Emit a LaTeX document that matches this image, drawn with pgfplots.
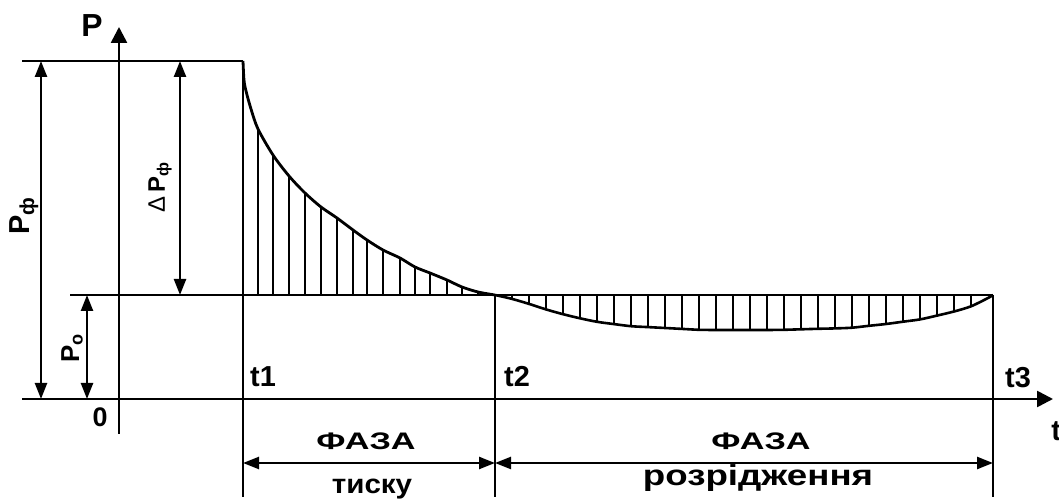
\documentclass[border=0pt]{standalone}
\usepackage{pgfplots}
\pgfplotsset{compat=1.18}
\usetikzlibrary{arrows.meta}
\usepackage{fontspec}
\setmainfont{Liberation Sans}
\begin{document}
\begin{tikzpicture}
\tikzset{
 dim/.style={line width=1.2bp, arrows={Triangle[length=8bp,width=6bp]-Triangle[length=8bp,width=6bp]}},
 axarr/.style={line width=1.3bp, arrows={-Triangle[length=8bp,width=8bp]}},
 ln/.style={line width=1.3bp},
 hatch/.style={ycomb, line width=1bp, mark=none},
}
\begin{axis}[name=ax, hide axis, scale only axis, width=529.5bp, height=249.5bp,
  xmin=0, xmax=1059, ymin=-204, ymax=295, clip=false]
% axes
\addplot[axarr] coordinates {(22,-104) (1053,-104)};
\addplot[axarr] coordinates {(119,-139) (119,268)};
% horizontal lines
\addplot[ln] coordinates {(22,234) (243,234)};
\addplot[ln] coordinates {(70,0) (993,0)};
% verticals
\addplot[ln] coordinates {(243,234) (243,-202)};
\addplot[ln] coordinates {(495,0) (495,-202)};
\addplot[ln] coordinates {(993,0) (993,-202)};
% pressure phase curve
\addplot[line width=1.4bp, smooth, tension=0.5] coordinates {
(243,234) (244,215) (246,204) (251,186) (258,166) (273,140) (289,119) (305,102)
(321,88) (337,77) (353,65) (367,55) (383,45) (400,37) (415,28) (430,22)
(447,15) (462,8) (478,3) (495,0)};
\addplot[hatch] coordinates {
(258,166) (273,140) (289,119) (305,102) (321,88) (337,77) (353,65) (367,55)
(383,45) (400,37) (415,28) (430,22) (447,15) (462,8) (478,3)};
% rarefaction phase curve
\addplot[line width=1.3bp, smooth, tension=0.5] coordinates {
(495,0) (512,-3.9) (529,-8.9) (546,-14.4) (563,-19.2) (580,-23.3) (597,-26.8)
(614,-29.1) (631,-31.2) (648,-32.1) (665,-33) (682,-33.9) (699,-34.8) (716,-35)
(733,-35) (750,-35) (767,-35) (784,-34.8) (801,-34.3) (818,-33.8) (835,-33.4)
(852,-32.7) (869,-30.8) (886,-29) (903,-26.7) (920,-24.4) (937,-20.6) (954,-16.5)
(971,-11.3) (988,-3) (993,0)};
\addplot[hatch] coordinates {
(512,-3.9) (529,-8.9) (546,-14.4) (563,-19.2) (580,-23.3) (597,-26.8)
(614,-29.1) (631,-31.2) (648,-32.1) (665,-33) (682,-33.9) (699,-34.8) (716,-35)
(733,-35) (750,-35) (767,-35) (784,-34.8) (801,-34.3) (818,-33.8) (835,-33.4)
(852,-32.7) (869,-30.8) (886,-29) (903,-26.7) (920,-24.4) (937,-20.6) (954,-16.5)
(971,-11.3)};
% dimension arrows
\addplot[dim] coordinates {(41,234) (41,-104)};
\addplot[dim] coordinates {(180,234) (180,0)};
\addplot[dim] coordinates {(87,0) (87,-104)};
\addplot[dim] coordinates {(243,-168) (495,-168)};
\addplot[dim] coordinates {(495,-168) (993,-168)};
% labels
\node[font=\bfseries\fontsize{16}{18}\selectfont, anchor=base] at (axis cs:92,258) {P};
\node[font=\bfseries\fontsize{13.5}{16}\selectfont, anchor=base] at (axis cs:100,-132) {0};
\node[font=\bfseries\fontsize{14.5}{16}\selectfont, anchor=base] at (axis cs:263,-92) {t1};
\node[font=\bfseries\fontsize{14.5}{16}\selectfont, anchor=base] at (axis cs:517,-92) {t2};
\node[font=\bfseries\fontsize{14.5}{16}\selectfont, anchor=base] at (axis cs:1018,-93) {t3};
\node[font=\bfseries\fontsize{14.5}{16}\selectfont, anchor=base west, inner sep=0pt] at (axis cs:1051,-145) {t};
\node[font=\bfseries\fontsize{12}{14}\selectfont, anchor=base] at (axis cs:366,-154) {\scalebox{1.43}[1]{ФАЗА}};
\node[font=\bfseries\fontsize{12}{14}\selectfont, anchor=base] at (axis cs:761,-154) {\scalebox{1.43}[1]{ФАЗА}};
\node[font=\bfseries\fontsize{13.5}{16}\selectfont, anchor=base] at (axis cs:372,-198) {\scalebox{1.1}[1]{тиску}};
\node[font=\bfseries\fontsize{14.5}{16}\selectfont, anchor=base] at (axis cs:758,-190) {\scalebox{1.27}[1]{розрідження}};
\node[font=\bfseries\fontsize{14.5}{16}\selectfont, rotate=90] at (axis cs:24,79) {P\textsubscript{ф}};
\node[font=\bfseries\fontsize{12}{14}\selectfont, rotate=90] at (axis cs:160,108) {{\mdseries Δ}\,P\textsubscript{ф}};
\node[font=\bfseries\fontsize{13}{15}\selectfont, rotate=90] at (axis cs:72,-53) {P\textsubscript{о}};
\end{axis}
\pgfresetboundingbox
\useasboundingbox (ax.south west) rectangle (ax.north east);
\end{tikzpicture}
\end{document}
